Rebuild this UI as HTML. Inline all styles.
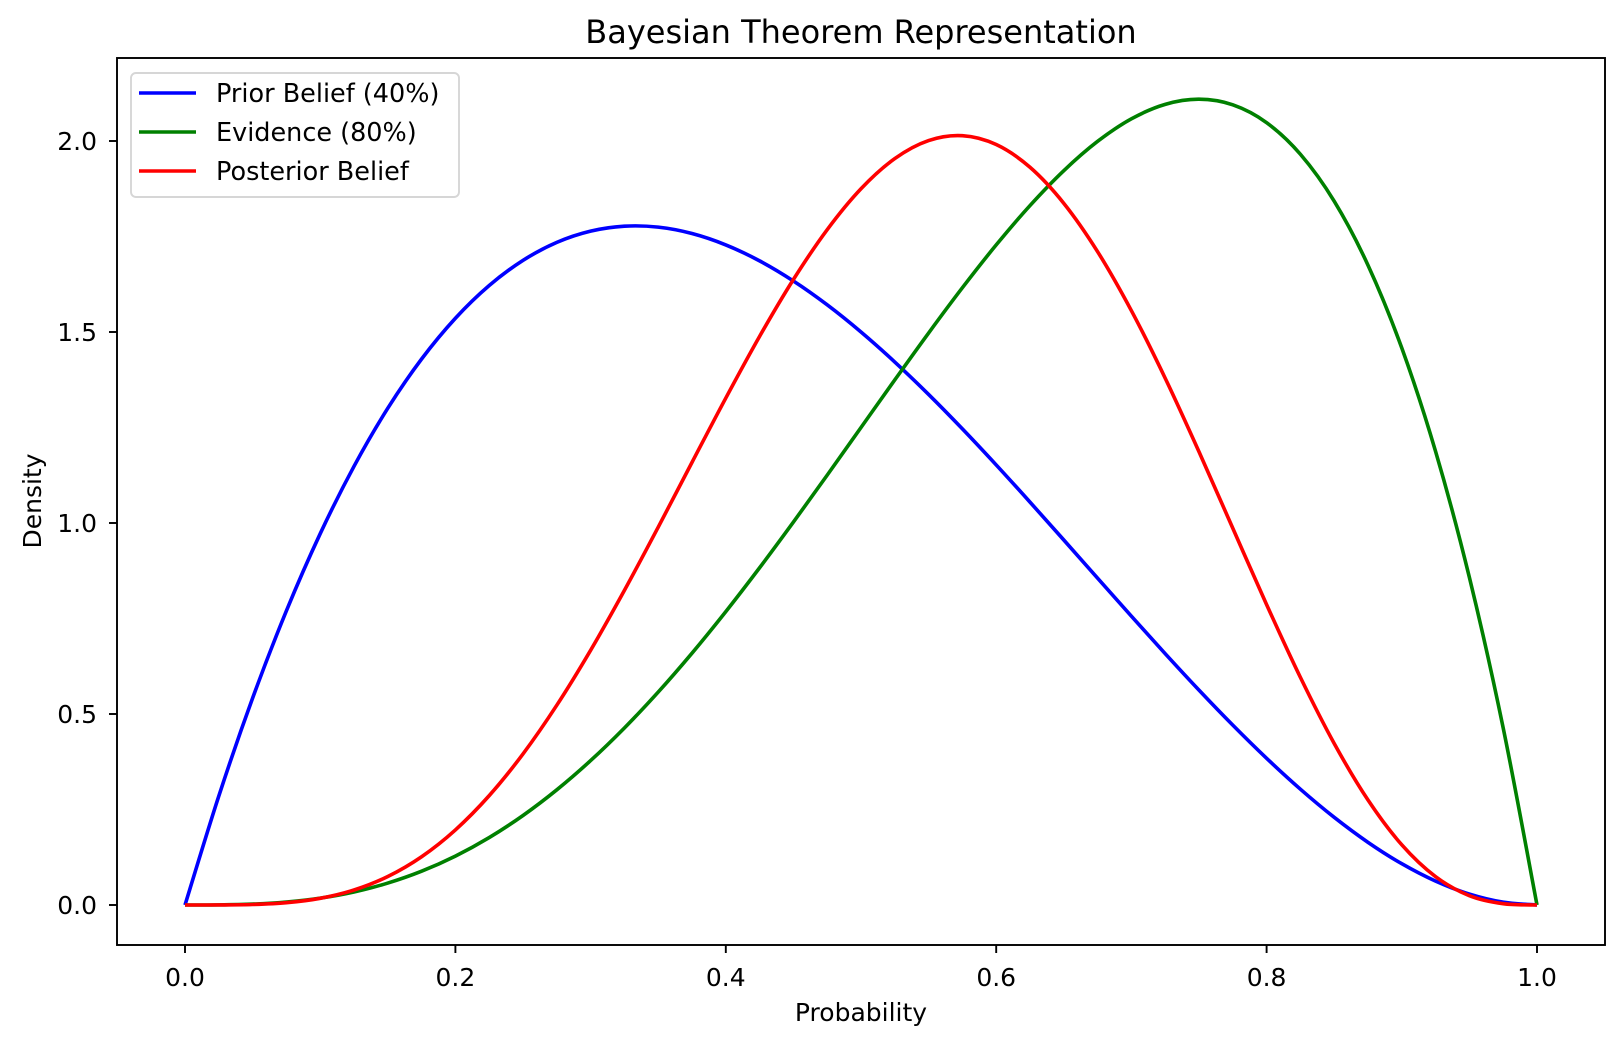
<!DOCTYPE html>
<html><head><meta charset="utf-8"><style>
body{margin:0;background:#fff}
svg text{font-family:"DejaVu Sans","Liberation Sans",sans-serif;fill:#000}
</style></head><body>
<svg id="chart" width="1624" height="1046" xmlns="http://www.w3.org/2000/svg">
<rect width="1624" height="1046" fill="#fff"/>
<text x="861" y="43" font-size="32" text-anchor="middle">Bayesian Theorem Representation</text>
<g id="plot"></g>
<rect x="117" y="58" width="1488" height="887" fill="none" stroke="#000" stroke-width="1.9"/>
<text x="861" y="1021" font-size="25" text-anchor="middle">Probability</text>
<text x="41" y="501" font-size="25" text-anchor="middle" transform="rotate(-90 41 501)">Density</text>
<g>
<rect x="131" y="73" width="328" height="124" rx="5" fill="#fff" fill-opacity="0.8" stroke="#d6d6d6" stroke-width="1.9"/>
<line x1="139" y1="93" x2="196" y2="93" stroke="#0000ff" stroke-width="3.6"/>
<text x="216" y="102" font-size="25.5">Prior Belief (40%)</text>
<line x1="139" y1="132" x2="196" y2="132" stroke="#008000" stroke-width="3.6"/>
<text x="216" y="141" font-size="25.5">Evidence (80%)</text>
<line x1="139" y1="171" x2="196" y2="171" stroke="#ff0000" stroke-width="3.6"/>
<text x="216" y="180" font-size="25.5">Posterior Belief</text>
</g>
</svg>
<script>
const xs=[0,.025,.05,.075,.1,.125,.15,.175,.2,.225,.25,.275,.3,.325,.35,.375,.4,.425,.45,.475,.5,.525,.55,.575,.6,.625,.65,.675,.7,.725,.75,.775,.8,.825,.85,.875,.9,.925,.95,.975,1];
const prior=[0,0.28519,0.5415,0.77006,0.972,1.14844,1.3005,1.42931,1.536,1.62169,1.6875,1.73456,1.764,1.77694,1.7745,1.75781,1.728,1.68619,1.6335,1.57106,1.5,1.42144,1.3365,1.24631,1.152,1.05469,0.9555,0.85556,0.756,0.65794,0.5625,0.47081,0.384,0.30319,0.2295,0.16406,0.108,0.06244,0.0285,0.00731,0];
const evidence=[0,0.000305,0.002375,0.007805,0.018,0.03418,0.057375,0.08843,0.128,0.17655,0.234375,0.30155,0.378,0.46343,0.557375,0.65918,0.768,0.8828,1.002375,1.1253,1.25,1.37468,1.497375,1.61593,1.728,1.83105,1.922375,1.99905,2.058,2.09593,2.109375,2.09468,2.048,1.9653,1.842375,1.6748,1.458,1.18718,0.857375,0.46343,0];
const posterior=[0,0.000087,0.001286,0.00601,0.0175,0.03925,0.07462,0.12639,0.1966,0.28631,0.3955,0.52306,0.66679,0.82349,0.98906,1.15871,1.3271,1.48857,1.63738,1.76791,1.875,1.95402,2.0012,2.01395,1.9907,1.93119,1.83683,1.71031,1.5558,1.379,1.18652,0.9862,0.78643,0.59586,0.42282,0.27477,0.15746,0.07413,0.02444,0.00339,0];
const xTicks=[0,0.2,0.4,0.6,0.8,1.0];
const xTickLabels=["0.0","0.2","0.4","0.6","0.8","1.0"];
const yTicks=[0,0.5,1.0,1.5,2.0];
const yTickLabels=["0.0","0.5","1.0","1.5","2.0"];
const X=v=>185+v*1352, Y=v=>905-v*382;
const g=document.getElementById('plot'),NS='http://www.w3.org/2000/svg';
function mk(t,a){const e=document.createElementNS(NS,t);for(const k in a)e.setAttribute(k,a[k]);g.appendChild(e);return e;}
xTicks.forEach((t,i)=>{
 const l=mk('line',{x1:X(t),x2:X(t),y1:945,y2:953,stroke:'#000','stroke-width':1.9});
 
 
 const tx=mk('text',{x:X(t),y:986,'font-size':25,'text-anchor':'middle'});tx.textContent=xTickLabels[i];
 
 
});
yTicks.forEach((t,i)=>{
 const l=mk('line',{x1:109,x2:117,y1:Y(t),y2:Y(t),stroke:'#000','stroke-width':1.9});
 
 
 const tx=mk('text',{x:97,y:Y(t)+9,'font-size':25,'text-anchor':'end'});tx.textContent=yTickLabels[i];
 
 
});
function path(ys){const p=xs.map((x,i)=>[X(x),Y(ys[i])]);let d='M'+p[0][0]+','+p[0][1];
 for(let i=0;i<p.length-1;i++){const p0=p[Math.max(0,i-1)],p1=p[i],p2=p[i+1],p3=p[Math.min(p.length-1,i+2)];
  d+=' C'+(p1[0]+(p2[0]-p0[0])/6)+','+(p1[1]+(p2[1]-p0[1])/6)+' '+(p2[0]-(p3[0]-p1[0])/6)+','+(p2[1]-(p3[1]-p1[1])/6)+' '+p2[0]+','+p2[1];}
 return d;}
[[prior,'#0000ff','prior-line'],[evidence,'#008000','evidence-line'],[posterior,'#ff0000','posterior-line']].forEach(s=>{
 const e=mk('path',{d:path(s[0]),fill:'none',stroke:s[1],'stroke-width':3.6,'stroke-linejoin':'round'});
 
 
});
</script>
</body></html>
